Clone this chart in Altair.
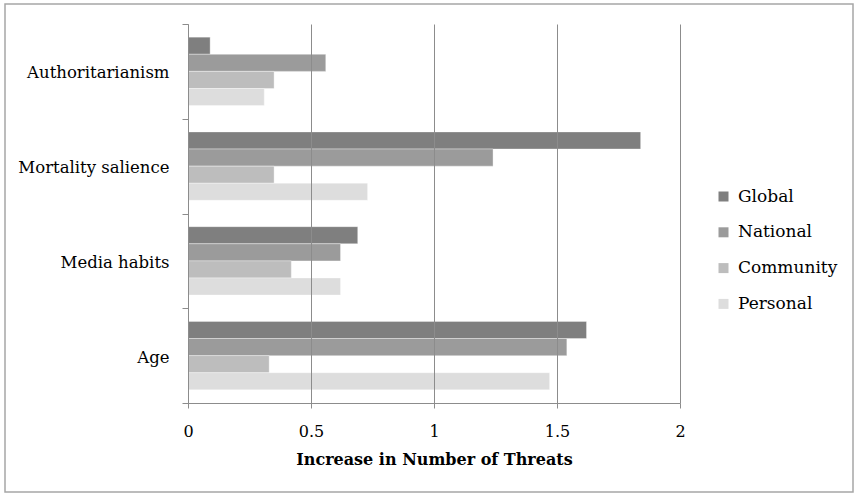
import altair as alt
import pandas as pd

# Source values
categories = ["Authoritarianism", "Mortality salience", "Media habits", "Age"]
series = ["Global", "National", "Community", "Personal"]
global_vals = [0.09, 1.84, 0.69, 1.62]
national_vals = [0.56, 1.24, 0.62, 1.54]
community_vals = [0.35, 0.35, 0.42, 0.33]
personal_vals = [0.31, 0.73, 0.62, 1.47]
x_ticks = [0, 0.5, 1, 1.5, 2]
colors = ["#7f7f7f", "#9b9b9b", "#bdbdbd", "#dddddd"]

rows = []
for name, vals in zip(series, [global_vals, national_vals, community_vals, personal_vals]):
    for cat, v in zip(categories, vals):
        rows.append({"factor": cat, "level": name, "value": v})
df = pd.DataFrame(rows)

FONT = "DejaVu Serif"
GRID = "#8c8c8c"

bars = alt.Chart(df).mark_bar(stroke="#ffffff", strokeOpacity=0.35, strokeWidth=1).encode(
    y=alt.Y(
        "factor:N",
        sort=categories,
        scale=alt.Scale(paddingInner=0, paddingOuter=0),
        axis=alt.Axis(
            title=None,
            tickBand="extent",
            tickSize=6,
            tickColor=GRID,
            domainColor=GRID,
            labelFont=FONT,
            labelFontSize=16.5,
            labelColor="#000000",
            labelPadding=13,
            labelOffset=1.5,
            grid=False,
        ),
    ),
    yOffset=alt.YOffset(
        "level:N",
        sort=series,
        scale=alt.Scale(paddingInner=0, paddingOuter=0.77),
    ),
    x=alt.X(
        "value:Q",
        scale=alt.Scale(domain=[0, 2], nice=False),
        axis=alt.Axis(
            title="Increase in Number of Threats",
            values=x_ticks,
            format=".1~f",
            grid=True,
            gridColor=GRID,
            gridWidth=1,
            tickColor=GRID,
            domainColor=GRID,
            tickSize=5,
            labelFlush=False,
            labelFont=FONT,
            labelFontSize=16,
            labelColor="#000000",
            labelPadding=15,
            titleFont=FONT,
            titleFontSize=16,
            titleFontWeight="bold",
            titleColor="#000000",
            titlePadding=12,
            zindex=1,
        ),
    ),
    color=alt.Color(
        "level:N",
        sort=series,
        scale=alt.Scale(domain=series, range=colors),
        legend=alt.Legend(
            title=None,
            orient="none",
            legendX=527,
            legendY=164,
            symbolType="square",
            symbolSize=100,
            symbolStrokeWidth=0,
            labelFont=FONT,
            labelFontSize=17,
            labelColor="#000000",
            labelOffset=6,
            rowPadding=17.8,
            padding=0,
        ),
    ),
)

# Frame around the whole figure
frame = alt.Chart(pd.DataFrame({"k": [0]})).mark_rect(
    fill=None, stroke="#a6a6a6", strokeWidth=1.5
).encode(
    x=alt.value(-183), x2=alt.value(665), y=alt.value(-20), y2=alt.value(468)
)

chart = alt.layer(bars, frame).properties(
    width=492,
    height=379,
    autosize=alt.AutoSizeParams(type="none"),
    padding={"left": 188, "top": 24, "right": 184, "bottom": 93},
    background="#ffffff",
).configure_view(stroke=None)

chart.save("out.html", embed_options={"renderer": "svg", "actions": False})
